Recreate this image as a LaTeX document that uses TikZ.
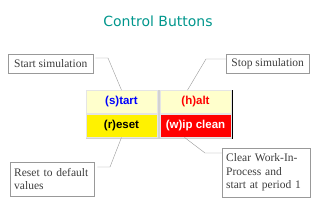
\documentclass[tikz,border=0pt]{standalone}
\usepackage{fontspec}
\setmainfont{Liberation Serif}
\newfontfamily\titlefont{DejaVu Sans}
\newfontfamily\buttonfont{Liberation Sans}
\usepackage{xcolor}
\usepackage{tikz}
\usetikzlibrary{positioning}

\definecolor{titleteal}{RGB}{0,150,140}
\definecolor{paleyellow}{RGB}{255,255,204}
\definecolor{notegray}{RGB}{60,60,60}

\begin{document}
\begin{tikzpicture}[x=1pt, y=-1pt,
    button/.style={rectangle, draw=gray!20, line width=0.8pt, minimum width=71pt, minimum height=23pt, inner sep=0pt, font=\buttonfont\fontsize{11.5}{13}\selectfont\bfseries},
    callout/.style={rectangle, draw=gray!80, thin, anchor=north west, align=left, inner xsep=4pt, inner ysep=2pt, text=notegray, font=\fontsize{11.5}{13.5}\selectfont},
    leader/.style={thin, gray!80}
]
    \useasboundingbox (0,0) rectangle (320,210);
    \node[font=\titlefont\fontsize{14}{16}\selectfont, text=titleteal] (title) at (158,21) {Control Buttons};
    % button panel
    \fill[gray!35] (86,90) rectangle (232,139);
    \node[button, fill=paleyellow, text=blue] (start) at (121.5,102) {(s)tart};
    \node[button, fill=paleyellow, text=red] (halt) at (195.5,102) {(h)alt};
    \node[button, fill=yellow, text=black] (reset) at (121.5,125.5) {(r)eset};
    \node[button, fill=red, text=white] (wip) at (195.5,125.5) {(w)ip clean};
    \draw[line width=1.2pt] (halt.north east) ++(1pt,0) -- ([xshift=1pt, yshift=-2pt]wip.south east);
    % notes
    \node[callout, minimum width=85pt, minimum height=19pt] (startnote) at (8,54) {Start simulation};
    \node[callout, minimum width=83pt, minimum height=19pt] (stopnote) at (226,54) {Stop simulation};
    \node[callout, text width=76pt, minimum height=34pt] (resetnote) at (10,162) {Reset to default\\values};
    \node[callout, text width=80pt, minimum height=49pt] (clearnote) at (222,148) {Clear Work-In-\\Process and\\start at period 1};
    \coordinate (startbend) at (108,58);
    \coordinate (stopbend) at (206,59);
    \coordinate (resetbend) at (110,167);
    \coordinate (clearbend) at (205,153);
    \draw[leader] ([xshift=2pt]startnote.east |- startbend) -- (startbend) -- (start.north);
    \draw[leader] (stopnote.west |- stopbend) -- (stopbend) -- ([xshift=-8pt]halt.north);
    \draw[leader] ([xshift=3pt]resetnote.east |- resetbend) -- (resetbend) -- (reset.south);
    \draw[leader] (clearnote.west |- clearbend) -- (clearbend) -- ([xshift=-11pt]wip.south);
\end{tikzpicture}
\end{document}
